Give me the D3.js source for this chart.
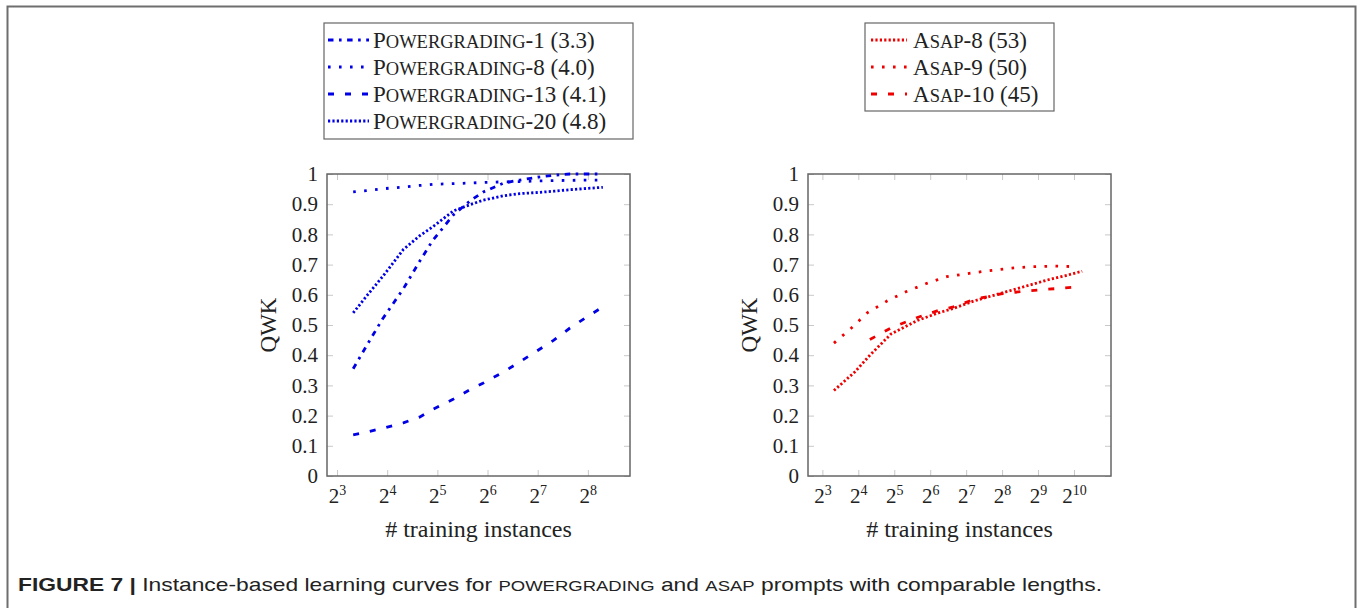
<!DOCTYPE html>
<html>
<head>
<meta charset="utf-8">
<script src="https://cdn.jsdelivr.net/npm/d3@7"></script>
<style>
  body { margin: 0; background: #fff; }
  svg text { font-family: "Liberation Serif", "Times New Roman", serif; fill: #222; }
</style>
</head>
<body>
<div id="chart"></div>
<script>
// page size
let width = 1357;
let height = 608;

// y ticks (QWK)
let yTicks = [0, 0.1, 0.2, 0.3, 0.4, 0.5, 0.6, 0.7, 0.8, 0.9, 1];

// x ticks, as exponents of 2
let pgTickExp = [3, 4, 5, 6, 7, 8];
let asapTickExp = [3, 4, 5, 6, 7, 8, 9, 10];

// Powergrading series (training instances -> QWK)
let pgX = [10, 12, 15, 20, 25, 30, 40, 50, 60, 80, 100, 130, 160, 200, 250, 315];
let pg1 = [0.355, 0.43, 0.52, 0.62, 0.71, 0.78, 0.865, 0.91, 0.94, 0.97, 0.98, 0.99, 0.996, 1.0, 1.0, 1.0];
let pg8 = [0.941, 0.945, 0.951, 0.957, 0.962, 0.966, 0.968, 0.970, 0.972, 0.974, 0.975, 0.977, 0.978, 0.979, 0.980, 0.980];
let pg13 = [0.136, 0.145, 0.158, 0.176, 0.195, 0.22, 0.255, 0.285, 0.307, 0.345, 0.378, 0.418, 0.45, 0.49, 0.525, 0.56];
let pg20 = [0.54, 0.595, 0.66, 0.75, 0.795, 0.825, 0.878, 0.898, 0.913, 0.928, 0.935, 0.939, 0.943, 0.948, 0.952, 0.956];
// legend labels: [capital, small caps, rest]
let pgLabels = [["P", "OWERGRADING", "-1 (3.3)"], ["P", "OWERGRADING", "-8 (4.0)"],
                ["P", "OWERGRADING", "-13 (4.1)"], ["P", "OWERGRADING", "-20 (4.8)"]];

// ASAP series
let asap8X = [10, 15, 20, 30, 50, 75, 100, 150, 250, 400, 600, 900, 1200];
let asap8 = [0.283, 0.345, 0.40, 0.47, 0.515, 0.54, 0.555, 0.58, 0.605, 0.628, 0.648, 0.665, 0.678];
let asap9X = [10, 14, 19, 28, 40, 60, 88, 130, 200, 300, 450, 700, 1070];
let asap9 = [0.44, 0.49, 0.54, 0.58, 0.61, 0.638, 0.66, 0.67, 0.68, 0.688, 0.693, 0.695, 0.693];
let asap10X = [20, 30, 50, 75, 100, 150, 250, 400, 600, 1024];
let asap10 = [0.452, 0.49, 0.525, 0.548, 0.56, 0.585, 0.603, 0.612, 0.618, 0.625];
let asapLabels = [["A", "SAP", "-8 (53)"], ["A", "SAP", "-9 (50)"], ["A", "SAP", "-10 (45)"]];

// line styles
let denseDot = "2.2,2.2";
let looseDot = "2.6,8.4";
let looseDash = "6,11";
let dashDot = "5.5,5.5,2.6,5.5";

let svg = d3.select("#chart")
            .append("svg")
            .attr("width", width)
            .attr("height", height);

// figure frame
svg.append("path")
    .attr("d", `M7.5,${height} V6.5 H1355.5 V${height}`)
    .attr("fill", "none")
    .attr("stroke", "#6e6e6e")
    .attr("stroke-width", 2);

function drawPanel(p) {
    let x = d3.scaleLog().base(2)
              .domain([2 ** p.xMinExp, 2 ** p.xMaxExp])
              .range([p.left, p.right]);
    let y = d3.scaleLinear()
              .domain([0, 1])
              .range([p.bottom, p.top]);
    let xTickVals = p.tickExp.map(e => 2 ** e);

    let g = svg.append("g");

    // ticks inside the box on all four sides
    g.append("g")
        .attr("transform", `translate(0, ${p.bottom})`)
        .call(d3.axisBottom(x).tickValues(xTickVals).tickSize(-6).tickSizeOuter(0).tickPadding(8))
        .call(a => a.select(".domain").remove())
        .call(a => a.selectAll("line").attr("stroke", "#c8c8c8"))
        .call(a => a.selectAll("text")
            .attr("font-size", "21px")
            .attr("dy", "0.9em")
            .attr("fill", "#222")
            .each(function(d) {
                let t = d3.select(this);
                t.text(null);
                t.append("tspan").text("2");
                t.append("tspan").attr("font-size", "14px").attr("dy", "-0.6em").text(Math.round(Math.log2(d)));
            }));
    g.append("g")
        .attr("transform", `translate(0, ${p.top})`)
        .call(d3.axisTop(x).tickValues(xTickVals).tickSize(-6).tickSizeOuter(0).tickFormat(""))
        .call(a => a.select(".domain").remove())
        .call(a => a.selectAll("line").attr("stroke", "#c8c8c8"));
    g.append("g")
        .attr("transform", `translate(${p.left}, 0)`)
        .call(d3.axisLeft(y).tickValues(yTicks).tickSize(-6).tickSizeOuter(0).tickPadding(9).tickFormat(d3.format("~g")))
        .call(a => a.select(".domain").remove())
        .call(a => a.selectAll("line").attr("stroke", "#c8c8c8"))
        .call(a => a.selectAll("text").attr("font-size", "21px").attr("fill", "#222"));
    g.append("g")
        .attr("transform", `translate(${p.right}, 0)`)
        .call(d3.axisRight(y).tickValues(yTicks).tickSize(-6).tickSizeOuter(0).tickFormat(""))
        .call(a => a.select(".domain").remove())
        .call(a => a.selectAll("line").attr("stroke", "#c8c8c8"));

    // box
    g.append("rect")
        .attr("x", p.left)
        .attr("y", p.top)
        .attr("width", p.right - p.left)
        .attr("height", p.bottom - p.top)
        .attr("fill", "none")
        .attr("stroke", "#666")
        .attr("stroke-width", 1.5);

    // curves
    let line = d3.line()
                 .x(d => x(d[0]))
                 .y(d => y(d[1]));
    p.series.forEach(s => {
        g.append("path")
            .datum(s.xs.map((v, i) => [v, s.ys[i]]))
            .attr("d", line)
            .attr("fill", "none")
            .attr("stroke", p.color)
            .attr("stroke-width", 2.8)
            .attr("stroke-dasharray", s.dash);
    });

    // axis titles
    g.append("text")
        .attr("transform", `translate(${p.left - 51}, ${(p.top + p.bottom) / 2}) rotate(-90)`)
        .attr("text-anchor", "middle")
        .attr("font-size", "23px")
        .text("QWK");
    g.append("text")
        .attr("x", (p.left + p.right) / 2)
        .attr("y", 537)
        .attr("text-anchor", "middle")
        .attr("font-size", "24px")
        .text("# training instances");

    // legend
    let lg = p.legend;
    g.append("rect")
        .attr("x", lg.x)
        .attr("y", lg.y)
        .attr("width", lg.w)
        .attr("height", lg.h)
        .attr("fill", "#fff")
        .attr("stroke", "#666")
        .attr("stroke-width", 1.2);
    p.series.forEach((s, i) => {
        let cy = lg.y + 17 + i * 27;
        g.append("line")
            .attr("x1", lg.sx0).attr("x2", lg.sx1)
            .attr("y1", cy).attr("y2", cy)
            .attr("stroke", p.color)
            .attr("stroke-width", 2.8)
            .attr("stroke-dasharray", s.dash);
        let t = g.append("text")
            .attr("x", lg.tx)
            .attr("y", cy + 8)
            .attr("font-size", "23px");
        t.append("tspan").text(s.label[0]);
        t.append("tspan").attr("font-size", "18.5px").text(s.label[1]);
        t.append("tspan").text(s.label[2]);
    });
}

drawPanel({
    left: 327, right: 630, top: 174, bottom: 476,
    xMinExp: 2.8, xMaxExp: 8.84,
    tickExp: pgTickExp,
    color: "#0000e6",
    series: [
        { xs: pgX, ys: pg1, dash: dashDot, label: pgLabels[0] },
        { xs: pgX, ys: pg8, dash: looseDot, label: pgLabels[1] },
        { xs: pgX, ys: pg13, dash: looseDash, label: pgLabels[2] },
        { xs: pgX, ys: pg20, dash: denseDot, label: pgLabels[3] }
    ],
    legend: { x: 324, y: 23, w: 309, h: 116, sx0: 328, sx1: 369, tx: 373 }
});

drawPanel({
    left: 808, right: 1111, top: 174, bottom: 476,
    xMinExp: 2.6, xMaxExp: 11.03,
    tickExp: asapTickExp,
    color: "#ee0000",
    series: [
        { xs: asap8X, ys: asap8, dash: denseDot, label: asapLabels[0] },
        { xs: asap9X, ys: asap9, dash: looseDot, label: asapLabels[1] },
        { xs: asap10X, ys: asap10, dash: looseDash, label: asapLabels[2] }
    ],
    legend: { x: 865, y: 23, w: 189, h: 88, sx0: 871, sx1: 907, tx: 913 }
});

// caption
let cap = svg.append("text")
             .attr("x", 18)
             .attr("y", 591)
             .attr("font-size", "18.5px")
             .attr("textLength", 1084)
             .attr("lengthAdjust", "spacingAndGlyphs")
             .style("font-family", "'Liberation Sans', Arial, sans-serif");
cap.append("tspan").attr("font-weight", "bold").text("FIGURE 7 | ");
cap.append("tspan").text("Instance-based learning curves for ");
cap.append("tspan").attr("font-size", "15px").text("POWERGRADING");
cap.append("tspan").text(" and ");
cap.append("tspan").attr("font-size", "15px").text("ASAP");
cap.append("tspan").text(" prompts with comparable lengths.");
</script>
</body>
</html>
